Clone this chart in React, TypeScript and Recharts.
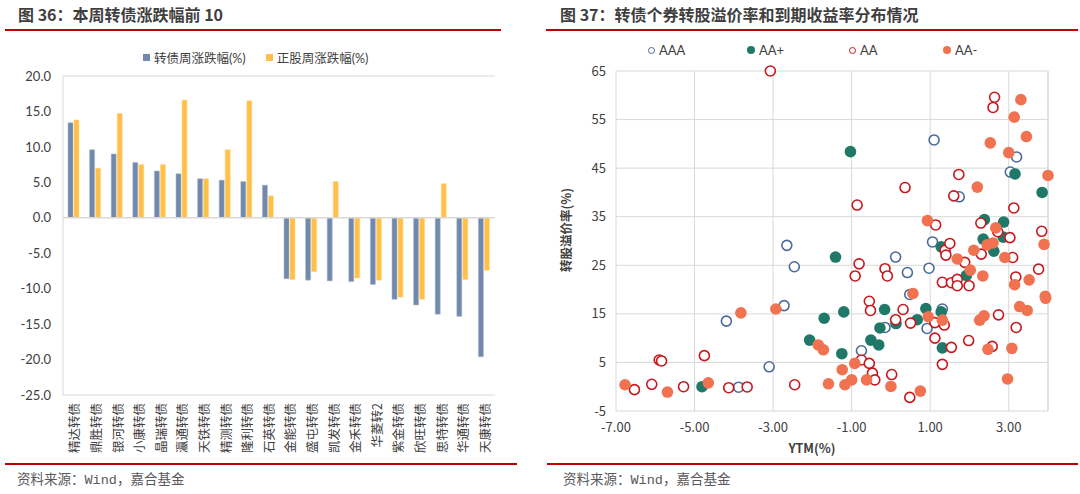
import React from "react";
import {
  BarChart, Bar, XAxis, YAxis, ReferenceLine,
  ScatterChart, Scatter, CartesianGrid,
} from "recharts";

// 图36 — weekly top/bottom 10 convertible bonds
const bondNames = [
  "精达转债", "鼎胜转债", "银河转债", "小康转债", "晶瑞转债",
  "瀛通转债", "天铁转债", "精测转债", "隆利转债", "石英转债",
  "金能转债", "盛屯转债", "凯发转债", "金禾转债", "华菱转2",
  "紫金转债", "欣旺转债", "思特转债", "华通转债", "天康转债",
];
const bondWeekly = [
  13.4, 9.6, 9.0, 7.8, 6.6, 6.2, 5.5, 5.3, 5.1, 4.6,
  -8.6, -8.8, -8.9, -9.0, -9.4, -11.5, -12.3, -13.6, -13.9, -19.6,
];
const stockWeekly = [
  13.8, 7.0, 14.7, 7.5, 7.5, 16.6, 5.5, 9.6, 16.5, 3.1,
  -8.7, -7.6, 5.1, -8.5, -8.8, -11.2, -11.5, 4.8, -8.7, -7.4,
];
const barTicks = [20, 15, 10, 5, 0, -5, -10, -15, -20, -25];

// 图37 — [YTM, conversion premium] by rating
const aaaPoints = [
  [-4.19, 13.5], [-3.88, -0.1], [-3.1, 4.1], [-2.72, 16.7], [-2.65, 29.1],
  [-2.46, 24.7], [-0.75, 7.4], [-0.15, 12.2], [0.12, 26.7], [0.42, 23.5],
  [0.48, 19.0], [0.92, 12.0], [0.97, 24.4], [1.06, 29.8], [1.1, 50.8],
  [1.31, 16.0], [1.74, 39.1], [3.04, 44.2], [3.2, 47.3],
];
const aaPlusPoints = [
  [-4.81, 0.0], [-2.07, 9.6], [-1.7, 14.1], [-1.41, 26.7], [-1.25, 6.8],
  [-1.2, 15.4], [-1.03, 48.4], [-0.51, 9.6], [-0.31, 8.6], [-0.28, 12.1],
  [-0.16, 15.9], [0.13, 13.0], [0.67, 13.8], [0.89, 16.1], [1.28, 15.4],
  [1.28, 28.8], [1.31, 8.0], [1.92, 22.9], [2.35, 30.4], [2.38, 34.4],
  [2.62, 27.9], [2.87, 33.9], [2.86, 30.8], [3.16, 43.8], [3.85, 40.0],
];
const aaPoints = [
  [-6.53, -0.6], [-6.09, 0.5], [-5.9, 5.5], [-5.84, 5.3], [-5.28, 0.0],
  [-4.75, 6.4], [-4.13, -0.2], [-3.66, -0.05], [-3.07, 65], [-2.45, 0.4],
  [-0.91, 22.8], [-0.86, 37.4], [-0.81, 25.3], [-0.75, 5.5], [-0.55, 17.6],
  [-0.55, 4.8], [-0.52, 15.7], [-0.47, 2.8], [-0.41, 1.4], [-0.15, 24.3],
  [-0.09, 22.8], [0.02, 2.5], [0.12, 13.8], [0.31, 15.9], [0.36, 41.0],
  [0.48, -2.2], [0.5, 13.1], [1.12, 13.2], [1.12, 10.0], [1.14, 33.3],
  [1.31, 21.5], [1.31, 4.6], [1.36, 12.7], [1.38, 28.1], [1.4, 27.1],
  [1.5, 29.5], [1.54, 8.1], [1.54, 21.4], [1.6, 39.3], [1.69, 22.1],
  [1.69, 20.8], [1.73, 43.7], [1.88, 25.6], [1.98, 9.5], [1.99, 20.8],
  [2.29, 33.7], [2.3, 27.3], [2.58, 8.3], [2.6, 57.5], [2.64, 59.6],
  [2.72, 31.9], [2.74, 14.8], [3.03, 30.7], [3.1, 26.6], [3.13, 36.8],
  [3.18, 22.6], [3.19, 12.2], [3.76, 24.2], [3.84, 32.0],
];
const aaMinusPoints = [
  [-6.77, 0.4], [-5.69, -1.1], [-4.65, 0.8], [-3.82, 15.2], [-2.93, 16.0],
  [-1.85, 8.6], [-1.72, 7.6], [-1.59, 0.6], [-1.24, 3.5], [-1.17, 0.4],
  [-1.0, 1.4], [-0.92, 4.8], [-0.62, 1.4], [0.0, 0.05], [0.56, 19.2],
  [0.75, -0.9], [0.93, 34.2], [0.95, 14.4], [1.31, 13.7], [1.69, 26.3],
  [2.02, 24.0], [2.11, 28.1], [2.2, 41.1], [2.26, 13.7], [2.34, 22.8],
  [2.37, 14.6], [2.45, 29.2], [2.47, 7.7], [2.53, 50.2], [2.6, 29.6],
  [2.67, 32.7], [2.9, 26.6], [2.97, 1.6], [3.0, 48.2], [3.08, 7.9],
  [3.14, 55.5], [3.15, 21.0], [3.28, 16.5], [3.31, 59.1], [3.45, 51.5],
  [3.47, 15.7], [3.52, 22.0], [3.9, 29.3], [3.93, 18.6], [3.94, 18.2],
  [4.0, 43.5],
];
const xTicks = [-7, -5, -3, -1, 1, 3];
const yTicks = [-5, 5, 15, 25, 35, 45, 55, 65];

const BLUE = "#7089AC";
const GOLD = "#FFBF48";
const C_AAA = "#4A6A9B";
const C_AAP = "#1F7868";
const C_AA = "#C8161D";
const C_AAM = "#F07250";
const GRID = "#D9D9D9";
const TXT = "#404040";
const RED = "#C00000";
const FONT = 'Lato, "Noto Sans CJK SC", sans-serif';
const CJK = '"Noto Sans CJK SC", sans-serif';

const barRows = bondNames.map((name, i) => ({
  name, bond: bondWeekly[i], stock: stockWeekly[i],
}));
const toRows = (pts: number[][]) => pts.map(([ytm, premium]) => ({ ytm, premium }));

function VerticalTick({ x, y, payload }: any) {
  return (
    <text transform={`translate(${x},${y}) rotate(-90)`} textAnchor="end"
      dominantBaseline="central" fontSize={12.5} fill={TXT} fontFamily={CJK}>
      {payload.value}
    </text>
  );
}

const openDot = (color: string) => (p: any) => (
  <circle cx={p.cx} cy={p.cy} r={5} fill="#fff" stroke={color} strokeWidth={1.6} />
);
const filledDot = (color: string) => (p: any) => (
  <circle cx={p.cx} cy={p.cy} r={5.8} fill={color} />
);

const abs = (s: React.CSSProperties): React.CSSProperties => ({ position: "absolute", ...s });

function Title({ left, text }: { left: number; text: string }) {
  return (
    <div style={abs({ left, top: 3, fontFamily: CJK, fontWeight: 700, fontSize: 16,
      color: "#3F3F3F", whiteSpace: "nowrap", lineHeight: "22px" })}>{text}</div>
  );
}

function Footer({ left }: { left: number }) {
  return (
    <div style={abs({ left, top: 472, fontFamily: '"Liberation Mono", "Noto Sans CJK SC", monospace',
      fontSize: 13.5, color: "#595959", whiteSpace: "nowrap", lineHeight: "18px" })}>
      资料来源：Wind，嘉合基金
    </div>
  );
}

function Rule({ left, width, top }: { left: number; width: number; top: number }) {
  return <div style={abs({ left, top, width, height: 2, background: RED })} />;
}

export default function App() {
  const legendText: React.CSSProperties = { fontFamily: FONT, fontSize: 12.5, color: TXT, whiteSpace: "nowrap" };
  return (
    <div style={abs({ left: 0, top: 0, width: 1080, height: 494, background: "#fff", overflow: "hidden" })}>
      <Title left={18} text="图 36：本周转债涨跌幅前 10" />
      <Title left={560} text="图 37：转债个券转股溢价率和到期收益率分布情况" />
      <Rule left={5} width={496} top={29} />
      <Rule left={546} width={532} top={29} />
      <Rule left={5} width={512} top={463} />
      <Rule left={547} width={531} top={463} />
      <Footer left={17} />
      <Footer left={563} />

      {/* legend, left chart */}
      <div style={abs({ left: 143, top: 48, display: "flex", alignItems: "center", gap: 20 })}>
        <div style={{ display: "flex", alignItems: "center", gap: 4 }}>
          <span style={{ width: 7, height: 7, background: BLUE, display: "inline-block" }} />
          <span style={legendText}>转债周涨跌幅(%)</span>
        </div>
        <div style={{ display: "flex", alignItems: "center", gap: 4 }}>
          <span style={{ width: 7, height: 7, background: GOLD, display: "inline-block" }} />
          <span style={legendText}>正股周涨跌幅(%)</span>
        </div>
      </div>

      {/* legend, right chart */}
      {[
        { l: 648, label: "AAA", c: C_AAA, open: true },
        { l: 747, label: "AA+", c: C_AAP, open: false },
        { l: 849, label: "AA", c: C_AA, open: true },
        { l: 943, label: "AA-", c: C_AAM, open: false },
      ].map((it) => (
        <div key={it.label} style={abs({ left: it.l, top: 42, display: "flex", alignItems: "center", gap: 4 })}>
          <span style={{ width: it.open ? 5 : 8, height: it.open ? 5 : 8, borderRadius: "50%",
            background: it.open ? "#fff" : it.c, border: it.open ? `1.5px solid ${it.c}` : "none",
            display: "inline-block" }} />
          <span style={{ ...legendText, fontSize: 13 }}>{it.label}</span>
        </div>
      ))}

      <div style={abs({ left: 0, top: 0 })}>
        <BarChart width={520} height={470} data={barRows}
          margin={{ top: 76, right: 25, bottom: 10, left: 0 }} barGap={1}>
          <XAxis dataKey="name" interval={0} tick={<VerticalTick />} tickLine={false}
            axisLine={{ stroke: GRID }} height={65} />
          <YAxis domain={[-25, 20]} ticks={barTicks} tickFormatter={(v: number) => v.toFixed(1)}
            width={63} tickLine={false} axisLine={{ stroke: GRID }} tickMargin={6}
            tick={{ fill: TXT, fontSize: 13, fontFamily: FONT }} />
          <YAxis yAxisId="frame" orientation="right" domain={[-25, 20]} tick={false}
            tickLine={false} width={0} axisLine={{ stroke: GRID }} />
          <ReferenceLine y={20} stroke={GRID} />
          <ReferenceLine y={0} stroke={GRID} strokeWidth={1.5} />
          <Bar dataKey="bond" fill={BLUE} barSize={5} stroke="#A9B7CC" strokeWidth={0.6} isAnimationActive={false} />
          <Bar dataKey="stock" fill={GOLD} barSize={5} stroke="#FFD98E" strokeWidth={0.6} isAnimationActive={false} />
        </BarChart>
      </div>

      <div style={abs({ left: 540, top: 0 })}>
        <ScatterChart width={540} height={470} margin={{ top: 71, right: 32, bottom: 20, left: 16 }}>
          <CartesianGrid stroke={GRID} />
          <XAxis type="number" dataKey="ytm" domain={[-7, 4]} ticks={xTicks}
            tickFormatter={(v: number) => v.toFixed(2)} tickLine={false} axisLine={false}
            height={39} tickMargin={6} tick={{ fill: TXT, fontSize: 13, fontFamily: CJK }} />
          <YAxis type="number" dataKey="premium" domain={[-5, 65]} ticks={yTicks}
            tickLine={false} axisLine={false} width={60} tickMargin={4}
            tick={{ fill: TXT, fontSize: 13, fontFamily: CJK }} />
          <ReferenceLine x={4} stroke={GRID} />
          <Scatter data={toRows(aaaPoints)} shape={openDot(C_AAA)} isAnimationActive={false} />
          <Scatter data={toRows(aaPlusPoints)} shape={filledDot(C_AAP)} isAnimationActive={false} />
          <Scatter data={toRows(aaPoints)} shape={openDot(C_AA)} isAnimationActive={false} />
          <Scatter data={toRows(aaMinusPoints)} shape={filledDot(C_AAM)} isAnimationActive={false} />
        </ScatterChart>
      </div>

      <div style={abs({ left: 812, top: 438, transform: "translateX(-50%)", fontFamily: CJK,
        fontWeight: 700, fontSize: 12.5, color: TXT, whiteSpace: "nowrap" })}>YTM(%)</div>
      <div style={abs({ left: 565, top: 230, transform: "translate(-50%,-50%) rotate(-90deg)",
        fontFamily: CJK, fontWeight: 700, fontSize: 12.5, color: TXT, whiteSpace: "nowrap" })}>转股溢价率(%)</div>
    </div>
  );
}
